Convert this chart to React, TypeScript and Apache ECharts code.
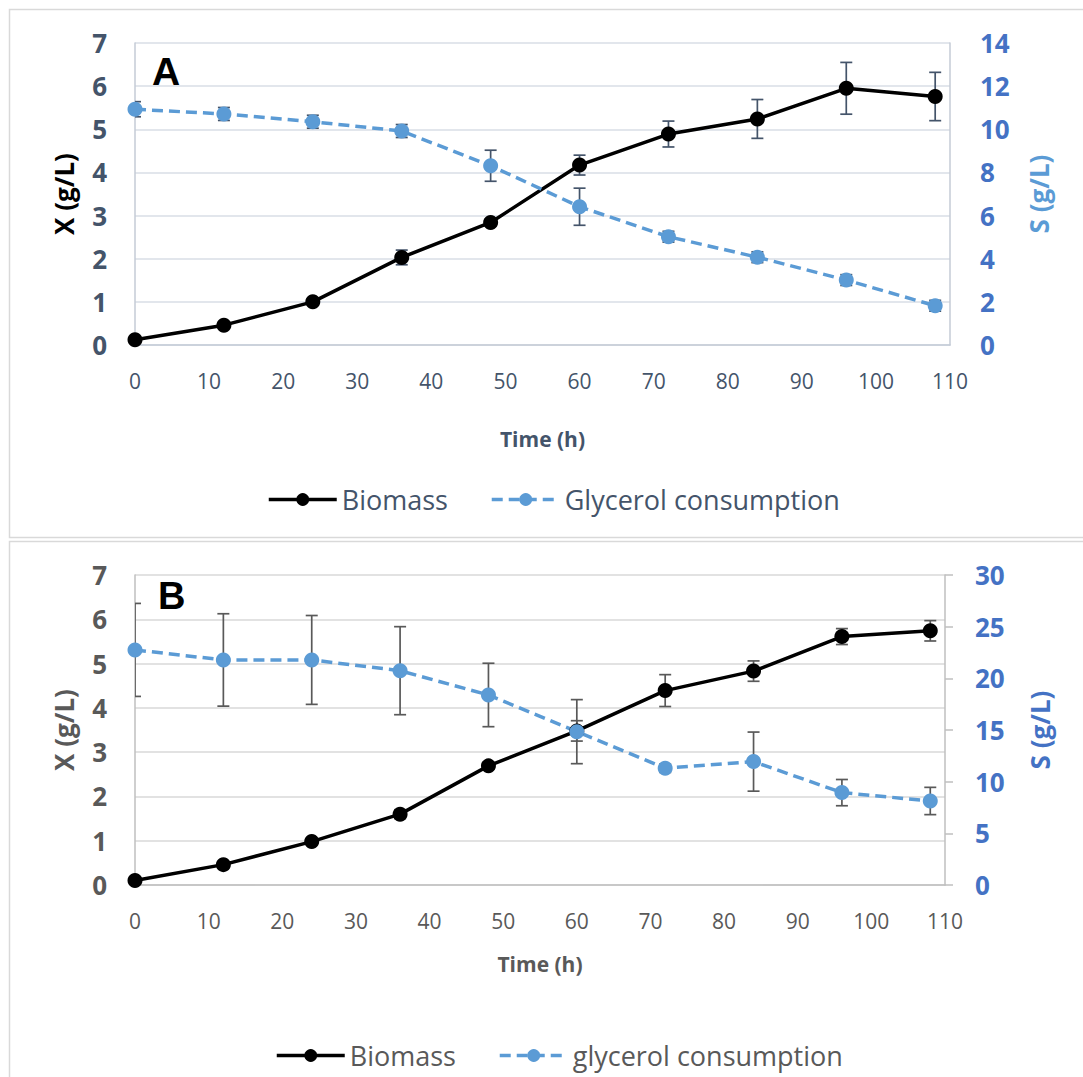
import React, { useEffect, useRef } from "react";
import * as echarts from "echarts";

// Sampling times (h)
const hours = [0, 12, 24, 36, 48, 60, 72, 84, 96, 108];
const timeTicks = [0, 10, 20, 30, 40, 50, 60, 70, 80, 90, 100, 110];

// Panel A
const biomassA = [0.12, 0.46, 1.0, 2.03, 2.84, 4.17, 4.89, 5.24, 5.95, 5.76];
const biomassErrA = [0.04, 0.05, 0.06, 0.17, 0.08, 0.23, 0.3, 0.45, 0.6, 0.56];
const glycerolA = [10.93, 10.71, 10.35, 9.92, 8.31, 6.41, 5.02, 4.07, 3.01, 1.82];
const glycerolErrA = [0.35, 0.3, 0.3, 0.3, 0.72, 0.86, 0.25, 0.25, 0.25, 0.25];

// Panel B
const biomassB = [0.1, 0.46, 0.98, 1.6, 2.69, 3.48, 4.39, 4.83, 5.61, 5.74];
const biomassErrB = [0.05, 0.05, 0.06, 0.1, 0.07, 0.23, 0.36, 0.23, 0.18, 0.23];
const glycerolB = [22.75, 21.78, 21.78, 20.74, 18.39, 14.84, 11.3, 11.94, 8.94, 8.13];
const glycerolErrB = [4.5, 4.47, 4.3, 4.26, 3.07, 3.1, 0.4, 2.86, 1.27, 1.32];

const FONT = '"Open Sans", "Noto Sans", sans-serif';
const BLUE = "#5b9bd5";
const AXIS_BLUE = "#4472c4";
const SLATE = "#44546a";
const GREY = "#595959";

const pairs = (ys: number[]) => hours.map((t, i) => [t, ys[i]]);
const triples = (ys: number[], es: number[]) => hours.map((t, i) => [t, ys[i], es[i]]);

function errorBars(name: string, data: number[][], xi: number, yi: number, color: string) {
  return {
    type: "custom",
    name,
    xAxisIndex: xi,
    yAxisIndex: yi,
    data,
    z: 3,
    silent: true,
    clip: true,
    encode: { x: 0, y: 1 },
    renderItem: (_p: any, api: any) => {
      const x = api.value(0);
      const v = api.value(1);
      const e = api.value(2);
      const hi = api.coord([x, v + e]);
      const lo = api.coord([x, v - e]);
      const w = 6;
      const style = { stroke: color, lineWidth: 1.7, fill: null };
      return {
        type: "group",
        children: [
          { type: "line", shape: { x1: hi[0], y1: hi[1], x2: lo[0], y2: lo[1] }, style },
          { type: "line", shape: { x1: hi[0] - w, y1: hi[1], x2: hi[0] + w, y2: hi[1] }, style },
          { type: "line", shape: { x1: lo[0] - w, y1: lo[1], x2: lo[0] + w, y2: lo[1] }, style },
        ],
      };
    },
  };
}

function lineSeries(name: string, data: number[][], xi: number, yi: number, color: string, dashed: boolean) {
  return {
    type: "line",
    name,
    xAxisIndex: xi,
    yAxisIndex: yi,
    data,
    z: 4,
    symbol: "circle",
    symbolSize: 15,
    showSymbol: true,
    itemStyle: { color },
    lineStyle: { color, width: 3.5, type: dashed ? [11, 6] : "solid" },
  };
}

function xAxis(gridIndex: number, textColor: string, lineColor: string, gap: number) {
  return {
    type: "value",
    gridIndex,
    min: 0,
    max: 110,
    interval: 10,
    name: "Time (h)",
    nameLocation: "middle",
    nameGap: gap,
    nameTextStyle: { fontFamily: FONT, fontSize: 21, fontWeight: "bold", color: textColor },
    axisLine: { show: true, lineStyle: { color: lineColor, width: 1.5 } },
    axisTick: { show: false },
    splitLine: { show: false },
    axisLabel: {
      fontFamily: FONT,
      fontSize: 21,
      color: textColor,
      margin: 25,
      formatter: (v: number) => (timeTicks.includes(v) ? String(v) : ""),
    },
  };
}

export default function App() {
  const ref = useRef<HTMLDivElement>(null);

  useEffect(() => {
    const chart = echarts.init(ref.current!, null, { renderer: "svg" });

    const gridLineA = "#d9dee6";
    const axisLineA = "#c4cbd6";
    const gridLineB = "#d9d9d9";
    const axisLineB = "#bfbfbf";

    const legendBase = {
      itemWidth: 68,
      itemHeight: 16,
      itemGap: 42,
      lineStyle: { width: 3.5 },
    };

    const option: any = {
      animation: false,
      backgroundColor: "#ffffff",
      graphic: [
        {
          type: "rect",
          shape: { x: 9.5, y: 9.5, width: 1100, height: 528 },
          style: { fill: "none", stroke: "#d9d9d9", lineWidth: 1.5 },
          silent: true,
        },
        {
          type: "rect",
          shape: { x: 9.5, y: 541.5, width: 1100, height: 600 },
          style: { fill: "none", stroke: "#d9d9d9", lineWidth: 1.5 },
          silent: true,
        },
        {
          type: "text",
          left: 152,
          top: 52,
          z: 10,
          style: { text: "A", fontFamily: '"Liberation Sans", Arial, sans-serif', fontSize: 39, fontWeight: "bold", fill: "#000" },
        },
        {
          type: "text",
          left: 158,
          top: 577,
          z: 10,
          style: { text: "B", fontFamily: '"Liberation Sans", Arial, sans-serif', fontSize: 38, fontWeight: "bold", fill: "#000" },
        },
      ],
      grid: [
        { left: 135, top: 43, width: 815, height: 302 },
        { left: 135, top: 575, width: 810, height: 310 },
      ],
      xAxis: [xAxis(0, SLATE, axisLineA, 83), xAxis(1, GREY, axisLineB, 68)],
      yAxis: [
        {
          type: "value",
          gridIndex: 0,
          min: 0,
          max: 7,
          interval: 1,
          position: "left",
          name: "X (g/L)",
          nameLocation: "middle",
          nameRotate: 90,
          nameGap: 58,
          nameTextStyle: { fontFamily: FONT, fontSize: 26, fontWeight: "bold", color: "#000" },
          axisLine: { show: true, lineStyle: { color: axisLineA, width: 1.5 } },
          axisTick: { show: false },
          splitLine: { show: true, lineStyle: { color: gridLineA, width: 1.5 } },
          axisLabel: { fontFamily: FONT, fontSize: 26, fontWeight: "bold", color: SLATE, margin: 28 },
        },
        {
          type: "value",
          gridIndex: 0,
          min: 0,
          max: 14,
          interval: 2,
          position: "right",
          name: "S (g/L)",
          nameLocation: "middle",
          nameRotate: 90,
          nameGap: 76,
          nameTextStyle: { fontFamily: FONT, fontSize: 26, fontWeight: "bold", color: BLUE },
          axisLine: { show: true, lineStyle: { color: axisLineA, width: 1.5 } },
          axisTick: { show: false },
          splitLine: { show: false },
          axisLabel: { fontFamily: FONT, fontSize: 26, fontWeight: "bold", color: AXIS_BLUE, margin: 30 },
        },
        {
          type: "value",
          gridIndex: 1,
          min: 0,
          max: 7,
          interval: 1,
          position: "left",
          name: "X (g/L)",
          nameLocation: "middle",
          nameRotate: 90,
          nameGap: 58,
          nameTextStyle: { fontFamily: FONT, fontSize: 26, fontWeight: "bold", color: GREY },
          axisLine: { show: true, lineStyle: { color: axisLineB, width: 1.5 } },
          axisTick: { show: false },
          splitLine: { show: true, lineStyle: { color: gridLineB, width: 1.5 } },
          axisLabel: { fontFamily: FONT, fontSize: 26, fontWeight: "bold", color: GREY, margin: 28 },
        },
        {
          type: "value",
          gridIndex: 1,
          min: 0,
          max: 30,
          interval: 5,
          position: "right",
          name: "S (g/L)",
          nameLocation: "middle",
          nameRotate: 90,
          nameGap: 82,
          nameTextStyle: { fontFamily: FONT, fontSize: 26, fontWeight: "bold", color: AXIS_BLUE },
          axisLine: { show: true, lineStyle: { color: axisLineB, width: 1.5 } },
          axisTick: { show: true, length: 8, lineStyle: { color: axisLineB, width: 1.5 } },
          splitLine: { show: false },
          axisLabel: { fontFamily: FONT, fontSize: 26, fontWeight: "bold", color: AXIS_BLUE, margin: 30 },
        },
      ],
      legend: [
        {
          ...legendBase,
          data: ["Biomass", "Glycerol consumption"],
          left: 262,
          top: 481,
          textStyle: { fontFamily: FONT, fontSize: 27, color: SLATE },
        },
        {
          ...legendBase,
          data: ["Biomass", "glycerol consumption"],
          left: 270,
          top: 1037,
          textStyle: { fontFamily: FONT, fontSize: 27, color: GREY },
        },
      ],
      series: [
        errorBars("Biomass SD A", triples(biomassA, biomassErrA), 0, 0, SLATE),
        errorBars("Glycerol SD A", triples(glycerolA, glycerolErrA), 0, 1, SLATE),
        lineSeries("Biomass", pairs(biomassA), 0, 0, "#000000", false),
        lineSeries("Glycerol consumption", pairs(glycerolA), 0, 1, BLUE, true),
        errorBars("Biomass SD B", triples(biomassB, biomassErrB), 1, 2, GREY),
        errorBars("Glycerol SD B", triples(glycerolB, glycerolErrB), 1, 3, GREY),
        lineSeries("Biomass", pairs(biomassB), 1, 2, "#000000", false),
        lineSeries("glycerol consumption", pairs(glycerolB), 1, 3, BLUE, true),
      ],
    };

    chart.setOption(option);
    return () => chart.dispose();
  }, []);

  return (
    <div
      ref={ref}
      style={{ position: "absolute", left: 0, top: 0, width: 1083, height: 1077, background: "#fff" }}
    />
  );
}
